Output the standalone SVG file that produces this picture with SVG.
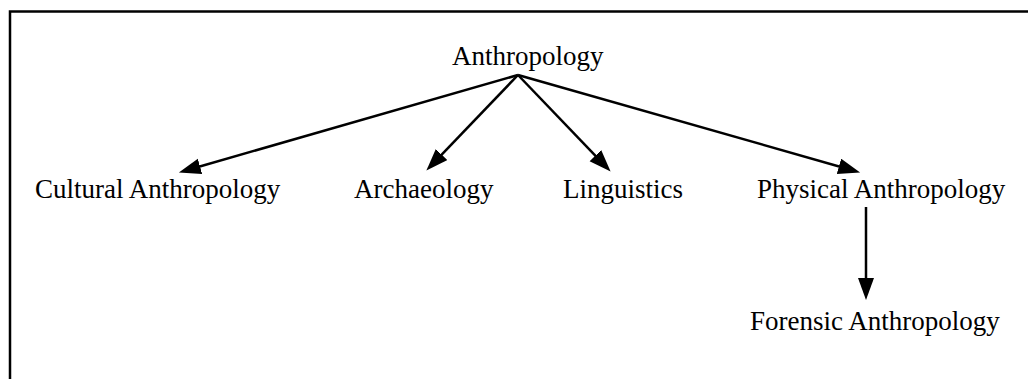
<svg xmlns="http://www.w3.org/2000/svg" width="1028" height="379" viewBox="0 0 1028 379">
<style>
text{font-family:"Liberation Serif","Times New Roman",serif;font-size:27px;fill:#000}
.edge{stroke:#000;stroke-width:2.5;fill:none}
</style>
<defs>
<marker id="ah" markerUnits="userSpaceOnUse" markerWidth="24" markerHeight="18" refX="12" refY="8" orient="auto">
<path d="M0,0 L22,8 L0,16 z" fill="#000"/>
</marker>
</defs>
<rect x="0" y="0" width="1028" height="379" fill="#fff"/>
<rect x="10" y="11.5" width="1100" height="500" fill="none" stroke="#000" stroke-width="2.5"/>
<g id="connectors">
<line class="edge" x1="518" y1="75" x2="188.5" y2="169.7" marker-end="url(#ah)"/>
<line class="edge" x1="518" y1="75" x2="433.3" y2="163.3" marker-end="url(#ah)"/>
<line class="edge" x1="518" y1="75" x2="603.7" y2="164.3" marker-end="url(#ah)"/>
<line class="edge" x1="518" y1="75" x2="850.5" y2="169.7" marker-end="url(#ah)"/>
<line class="edge" x1="866" y1="207" x2="866" y2="290" marker-end="url(#ah)"/>
</g>
<g id="anthropology"><text x="452" y="65">Anthropology</text></g>
<g id="cultural"><text x="35" y="198">Cultural Anthropology</text></g>
<g id="archaeology"><text x="354" y="198">Archaeology</text></g>
<g id="linguistics"><text x="563" y="198">Linguistics</text></g>
<g id="physical"><text x="757" y="198">Physical Anthropology</text></g>
<g id="forensic"><text x="750" y="330">Forensic Anthropology</text></g>
</svg>
